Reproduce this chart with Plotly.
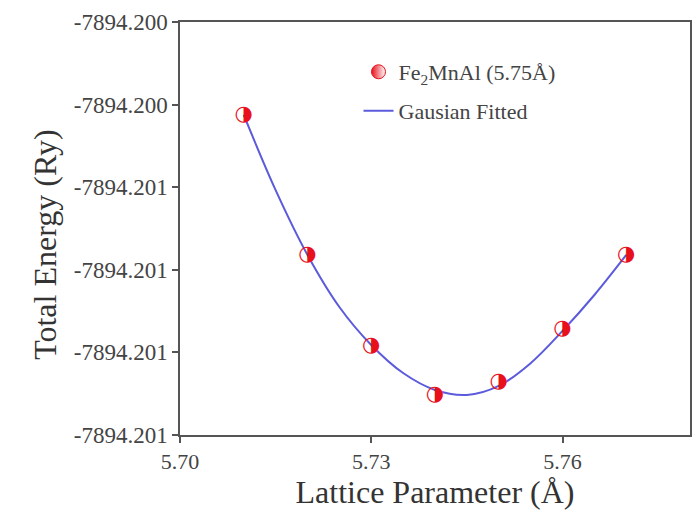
import plotly.graph_objects as go

# Data
lattice = [5.71, 5.72, 5.73, 5.74, 5.75, 5.76, 5.77]
energy = [-7894.200425, -7894.200764, -7894.200985, -7894.201103,
          -7894.201072, -7894.200943, -7894.200764]

fit_lattice = [5.710, 5.715, 5.720, 5.725, 5.730, 5.735, 5.740,
               5.745, 5.750, 5.755, 5.760, 5.765, 5.770]
fit_energy = [-7894.200425, -7894.200607, -7894.200764, -7894.200890,
              -7894.200982, -7894.201050, -7894.201091, -7894.201103,
              -7894.201081, -7894.201026, -7894.200948, -7894.200861,
              -7894.200764]

x_tick_vals = [5.70, 5.73, 5.76]
x_tick_text = ["5.70", "5.73", "5.76"]
y_tick_vals = [-7894.2002, -7894.2004, -7894.2006, -7894.2008, -7894.2010, -7894.2012]
y_tick_text = ["-7894.200", "-7894.200", "-7894.201", "-7894.201", "-7894.201", "-7894.201"]

FONT = "Liberation Serif"
AX = "#555555"
RED = "#e8101a"

fig = go.Figure()

fig.add_trace(go.Scatter(
    x=fit_lattice, y=fit_energy, mode="lines",
    line=dict(color="#5b5bdc", width=2, shape="spline", smoothing=1.0),
    name="Gausian Fitted", legend="legend2", showlegend=True,
))

# half-filled circle markers drawn as a glyph
fig.add_trace(go.Scatter(
    x=lattice, y=energy, mode="text",
    text=["\u25D1"] * len(lattice), textposition="middle center",
    textfont=dict(family="DejaVu Sans", size=21, color=RED),
    showlegend=False, hoverinfo="x+y",
))

# legend entry for the points
fig.add_trace(go.Scatter(
    x=[None], y=[None], mode="markers",
    marker=dict(symbol="circle", size=14, color=RED,
                line=dict(color=RED, width=1),
                gradient=dict(type="horizontal", color="#ffffff")),
    name="Fe<sub>2</sub>MnAl (5.75Å)", legend="legend", showlegend=True,
))

fig.update_layout(
    width=697, height=511,
    margin=dict(l=180, r=5, t=22, b=76),
    paper_bgcolor="white", plot_bgcolor="white",
    font=dict(family=FONT, color="#3a3a3a"),
    showlegend=True,
    legend=dict(x=0.35, y=0.879, xanchor="left", yanchor="middle",
                bgcolor="rgba(0,0,0,0)", font=dict(size=22, family=FONT, color="#444444")),
    legend2=dict(x=0.35, y=0.7845, xanchor="left", yanchor="middle",
                 bgcolor="rgba(0,0,0,0)", font=dict(size=22, family=FONT, color="#444444")),
    annotations=[dict(
        text="Total Energy (Ry)", textangle=-90,
        xref="paper", yref="paper", x=-0.265, y=0.4625,
        xanchor="center", yanchor="middle", showarrow=False,
        font=dict(size=32, family=FONT, color="#333333"),
    )],
)

fig.update_xaxes(
    range=[5.70, 5.78], tickvals=x_tick_vals, ticktext=x_tick_text,
    showline=True, linecolor=AX, linewidth=1.5, mirror=True,
    ticks="outside", ticklen=6, tickcolor=AX, tickwidth=1.5,
    showgrid=False, zeroline=False,
    tickfont=dict(size=22, family=FONT, color="#444444"),
    title=dict(text="Lattice Parameter (Å)", font=dict(size=32, family=FONT, color="#333333"), standoff=6),
)

fig.update_yaxes(
    range=[-7894.2012, -7894.2002], tickvals=y_tick_vals, ticktext=y_tick_text,
    showline=True, linecolor=AX, linewidth=1.5, mirror=True,
    ticks="outside", ticklen=6, tickcolor=AX, tickwidth=1.5,
    showgrid=False, zeroline=False,
    tickfont=dict(size=23, family=FONT, color="#444444"),
)

fig.write_html("out.html")
